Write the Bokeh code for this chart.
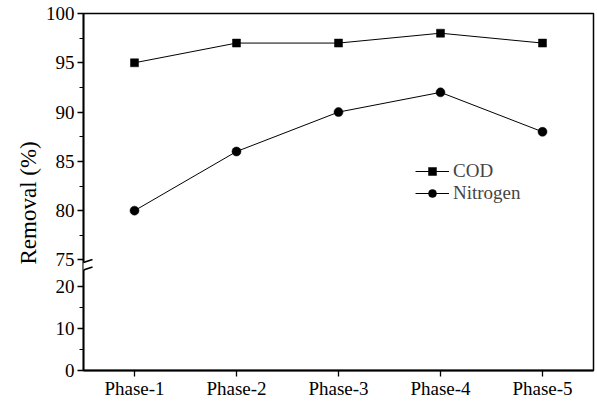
from bokeh.plotting import figure
from bokeh.models import Range1d, FixedTicker, Legend, LegendItem, Arrow, BoxAnnotation, Title
from bokeh.embed import file_html
from bokeh.resources import INLINE

phases = ["Phase-1", "Phase-2", "Phase-3", "Phase-4", "Phase-5"]
cod = [95, 97, 97, 98, 97]
nitrogen = [80, 86, 90, 92, 88]
lower_ticks = [0, 10, 20]
lower_minor = [5, 15]
upper_ticks = [75, 80, 85, 90, 95, 100]
upper_minor = [77.5, 82.5, 87.5, 92.5, 97.5]
y_title = "Removal (%)"

# broken axis mapping: lower segment 0-20, upper segment 75-100
LOW_SCALE = 4.2
UP_OFF = 111.0
UP_SCALE = 9.9


def fwd(v):
    if v <= 20:
        return v * LOW_SCALE
    return UP_OFF + (v - 75) * UP_SCALE


FONT = "Liberation Serif"
xs = list(range(1, len(phases) + 1))

p = figure(width=597, height=401, output_backend="svg", toolbar_location=None,
           x_range=Range1d(0.5, 5.5), y_range=Range1d(0, fwd(100)),
           min_border_left=83, min_border_right=4, min_border_top=13, min_border_bottom=30)
p.grid.visible = False
p.outline_line_color = "black"
p.outline_line_width = 1.5
p.background_fill_color = "white"
p.border_fill_color = "white"

yt = [fwd(v) for v in lower_ticks + upper_ticks]
ym = [fwd(v) for v in lower_minor + upper_minor]
p.yaxis.ticker = FixedTicker(ticks=yt, minor_ticks=ym)
p.yaxis.major_label_overrides = {fwd(v): str(v) for v in lower_ticks + upper_ticks}
p.xaxis.ticker = FixedTicker(ticks=xs, minor_ticks=[])
p.xaxis.major_label_overrides = {x: ph for x, ph in zip(xs, phases)}

for ax in (p.xaxis, p.yaxis):
    ax.axis_line_width = 1.8
    ax.major_tick_line_width = 1.3
    ax.minor_tick_line_width = 1
    ax.major_tick_out = 6
    ax.major_tick_in = 0
    ax.minor_tick_out = 4
    ax.minor_tick_in = 0
    ax.major_label_text_font = FONT
    ax.major_label_text_font_size = "19px"
    ax.major_label_text_color = "black"

p.xaxis.major_label_standoff = 1
p.yaxis.major_label_standoff = 3

# y-axis title as a side title, shifted to sit where the original does
p.add_layout(Title(text=y_title, align="left", offset=106, text_font=FONT,
                   text_font_size="23px", text_font_style="normal", text_color="black",
                   standoff=4), "left")

cod_y = [fwd(v) for v in cod]
nit_y = [fwd(v) for v in nitrogen]

l1 = p.line(xs, cod_y, line_color="black", line_width=1)
s1 = p.scatter(xs, cod_y, marker="square", size=8, fill_color="black", line_color="black", line_width=0.5)
l2 = p.line(xs, nit_y, line_color="black", line_width=1)
s2 = p.scatter(xs, nit_y, marker="circle", size=9, fill_color="black", line_color="black", line_width=0.5)

legend = Legend(items=[LegendItem(label="COD", renderers=[l1, s1]),
                       LegendItem(label="Nitrogen", renderers=[l2, s2])],
                location=(332, 166), glyph_width=34, glyph_height=20, label_standoff=4,
                spacing=0, padding=0, margin=0,
                border_line_color=None, background_fill_alpha=0,
                label_text_font=FONT, label_text_font_size="19px")
p.add_layout(legend, "center")

# axis break: white gap plus two slashes
px = 5.0 / 510.0  # data units per pixel in x
y_gap_top = fwd(75) - 2.5
y_gap_bot = fwd(20) + 17
p.add_layout(BoxAnnotation(left=0.5 - 4 * px, right=0.5 + 4 * px,
                           bottom=y_gap_bot, top=y_gap_top,
                           fill_color="white", fill_alpha=1, line_color=None))
for y0 in (y_gap_top - 3, y_gap_bot - 3):
    p.add_layout(Arrow(end=None, x_start=0.5 - 9 * px, y_start=y0,
                       x_end=0.5 + 9 * px, y_end=y0 + 6,
                       line_color="black", line_width=1.5))

open("out.html", "w").write(file_html(p, INLINE))
